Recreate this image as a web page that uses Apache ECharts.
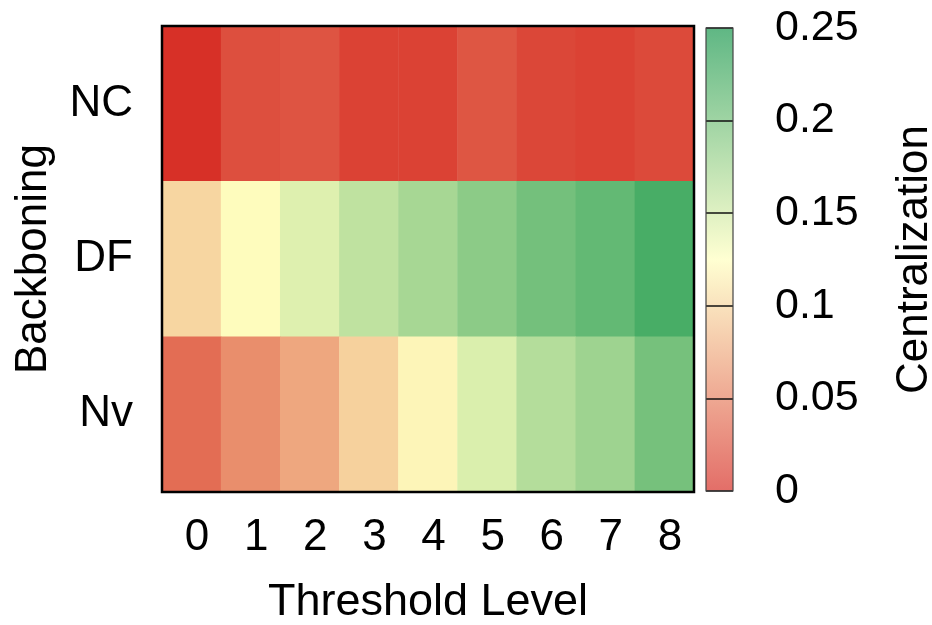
<!DOCTYPE html>
<html>
<head>
<meta charset="utf-8">
<script src="https://cdn.jsdelivr.net/npm/echarts@6/dist/echarts.min.js"></script>
<style>html,body{margin:0;padding:0;background:#fff;}#c{width:932px;height:625px;}</style>
</head>
<body>
<div id="c"></div>
<script>
const thresholds = ['0','1','2','3','4','5','6','7','8'];
const backbonings = ['NC','DF','Nv'];
const ncValues = [0.000, 0.019, 0.022, 0.011, 0.011, 0.023, 0.014, 0.011, 0.016];
const dfValues = [0.100, 0.123, 0.143, 0.160, 0.173, 0.188, 0.201, 0.210, 0.225];
const nvValues = [0.037, 0.057, 0.072, 0.097, 0.119, 0.145, 0.166, 0.178, 0.200];
const colorbarMin = 0;
const colorbarMax = 0.25;
const colorbarStep = 0.05;

const rows = [ncValues, dfValues, nvValues];
const data = [];
rows.forEach((vals, r) => vals.forEach((v, c) => data.push([c, r, v])));

const FONT = "'Liberation Sans', Arial, Helvetica, sans-serif";
const chart = echarts.init(document.getElementById('c'));
chart.setOption({
  backgroundColor: '#fff',
  animation: false,
  textStyle: { fontFamily: FONT },
  grid: [
    { left: 162, top: 26, width: 532, height: 466, show: true, borderColor: '#000', borderWidth: 2.5,
      backgroundColor: 'transparent', z: 10, outerBoundsMode: 'none', containLabel: false },
    { left: 706, top: 28, width: 27, height: 463, show: true, borderColor: '#444', borderWidth: 1.2,
      backgroundColor: 'transparent', z: 10, outerBoundsMode: 'none', containLabel: false }
  ],
  xAxis: [
    { type: 'category', gridIndex: 0, data: thresholds,
      axisLine: { show: false }, axisTick: { show: false }, splitLine: { show: false },
      axisLabel: { fontSize: 44, color: '#000', margin: 24, fontFamily: FONT, padding: [0, 0, 0, 11] },
      name: 'Threshold Level', nameLocation: 'middle', nameGap: 88,
      nameTextStyle: { fontSize: 45, color: '#000', fontFamily: FONT } },
    { type: 'category', gridIndex: 1, show: false, data: ['bar'] }
  ],
  yAxis: [
    { type: 'category', gridIndex: 0, data: backbonings, inverse: true,
      axisLine: { show: false }, axisTick: { show: false }, splitLine: { show: false },
      axisLabel: { fontSize: 44, color: '#000', margin: 29, fontFamily: FONT },
      name: 'Backboning', nameLocation: 'middle', nameGap: 106,
      nameTextStyle: { fontSize: 44, color: '#000', fontFamily: FONT } },
    { type: 'value', gridIndex: 1, position: 'right', min: colorbarMin, max: colorbarMax, interval: colorbarStep, z: 5,
      axisLine: { show: false }, axisTick: { show: false },
      splitLine: { show: true, lineStyle: { color: '#111', width: 1.5 } },
      axisLabel: { fontSize: 43, color: '#000', margin: 42, fontFamily: FONT,
        formatter: v => String(Math.round(v * 100) / 100) },
      name: 'Centralization', nameLocation: 'middle', nameGap: 160, nameRotate: 90,
      nameTextStyle: { fontSize: 44, color: '#000', fontFamily: FONT } }
  ],
  visualMap: {
    type: 'continuous', min: colorbarMin, max: colorbarMax, seriesIndex: 0, show: false,
    inRange: { color: ['#d73027', '#ffffbf', '#1a9850'] }
  },
  series: [
    {
      type: 'heatmap', xAxisIndex: 0, yAxisIndex: 0, data: data,
      itemStyle: { borderWidth: 0 },
      emphasis: { disabled: true }
    },
    {
      type: 'bar', xAxisIndex: 1, yAxisIndex: 1, data: [colorbarMax],
      barWidth: '100%', silent: true, z: 1,
      itemStyle: {
        color: new echarts.graphic.LinearGradient(0, 0, 0, 1, [
          { offset: 0, color: '#5fb784' },
          { offset: 0.5, color: '#ffffd2' },
          { offset: 1, color: '#e36e68' }
        ])
      }
    }
  ]
});
</script>
</body>
</html>
